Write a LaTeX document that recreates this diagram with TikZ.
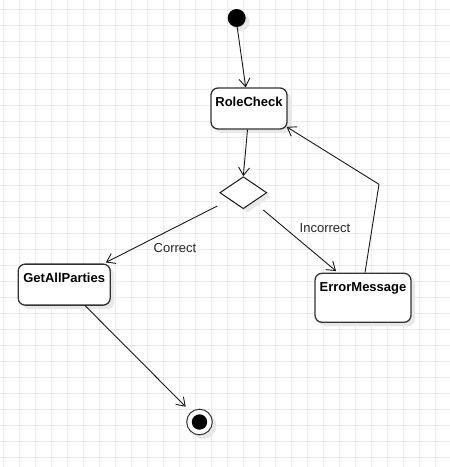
\documentclass[tikz,border=0pt]{standalone}
\usepackage{fontspec}
\setmainfont{Liberation Sans}
\usetikzlibrary{arrows.meta,shapes.geometric,shadows,calc}
\definecolor{gridc}{HTML}{EBEBEB}
\definecolor{edgec}{HTML}{333333}
\definecolor{shadowc}{HTML}{E8E8E8}
\tikzset{
  x=1pt, y=-1pt,
  shad/.style={drop shadow={shadow xshift=4pt, shadow yshift=-4pt, opacity=1, fill=shadowc}},
  statebox/.style={draw=edgec, line width=1.3pt, rounded corners=7pt, fill=white, shad, inner sep=0pt},
  boxtext/.style={font=\fontsize{13}{15}\selectfont\bfseries, anchor=base, inner sep=0pt},
  lbl/.style={font=\fontsize{13}{15}\selectfont, anchor=base, inner sep=0pt, text=black!85},
  conn/.style={draw=black!90, line width=0.9pt, -{Straight Barb[length=8pt, width=11pt, line width=0.9pt]}},
  gridline/.style={draw=gridc, line width=1pt},
}
\begin{document}
\begin{tikzpicture}
\useasboundingbox (0,0) rectangle (450,467);
\fill[white] (0,0) rectangle (450,467);
% grid
\foreach \i in {0,...,28} { \draw[gridline] (3+16*\i,0) -- (3+16*\i,467); }
\foreach \j in {0,...,28} { \draw[gridline] (0,9+16*\j) -- (450,9+16*\j); }

% nodes
\node[circle, fill=black, minimum size=18pt, inner sep=0pt, shad] (init) at (236.7,18) {};
\node[statebox, minimum width=76pt, minimum height=41pt] (rc) at (249,108.5) {};
\node[boxtext] (rct) at ($(rc.north)+(0,19)$) {RoleCheck};
\node[diamond, draw=black!90, line width=1pt, fill=white, shad, inner sep=0pt, minimum width=47pt, minimum height=32pt] (dec) at (243.3,192.7) {};
\node[statebox, minimum width=92pt, minimum height=41pt] (gap) at (64.2,284.6) {};
\node[boxtext] (gapt) at ($(gap.north)+(0,19)$) {GetAllParties};
\node[statebox, minimum width=96pt, minimum height=49pt] (em) at (363,297.8) {};
\node[boxtext] (emt) at ($(em.north)+(0,18.5)$) {ErrorMessage};
\node[circle, draw=edgec, line width=1pt, fill=white, minimum size=25.6pt, inner sep=0pt, shad] (fin) at (199.5,422) {};
\node[circle, fill=black, minimum size=15.4pt, inner sep=0pt] (finc) at (fin.center) {};

% connectors
\coordinate (e5) at (379,184.3);
\draw[conn] ($(init.center)+(0.5,9)$) -- ($(rc.north)+(-3.3,0)$);
\draw[conn] ($(rc.south)+(-1.5,0)$) -- (dec.north);
\draw[conn] ($(dec.center)+(-26,13.3)$) -- ($(gap.north east)+(-5,-1)$);
\draw[conn] ($(dec.center)+(20,17.3)$) -- ($(em.north west)+(21.7,-1.6)$);
\draw[conn] ($(em.north)+(2,0)$) -- (e5) -- ($(rc.north east)+(-1,39.5)$);
\draw[conn] ($(gap.south)+(21,0)$) -- ($(fin.center)+(-13.8,-15.3)$);

% labels
\node[lbl] (lc) at (175,252) {Correct};
\node[lbl] (li) at (325,232.3) {Incorrect};
\end{tikzpicture}
\end{document}
